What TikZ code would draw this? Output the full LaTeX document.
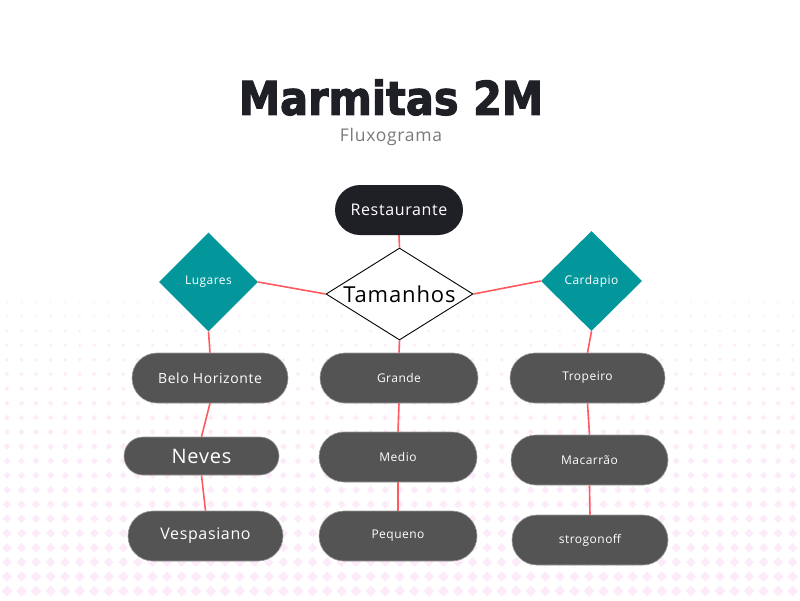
\documentclass[tikz,border=0pt]{standalone}
\usepackage{graphicx}
\usepackage{fontspec}
\setmainfont{Open Sans}
\newfontfamily\titlefont{DejaVu Sans Bold}[FakeBold=2.5]
\newfontfamily\labfont{Open Sans}[LetterSpace=4]
\usetikzlibrary{shapes.geometric,shapes.misc}
\definecolor{inkdark}{HTML}{1F1F26}
\definecolor{pillgrey}{HTML}{545454}
\definecolor{pillrim}{HTML}{9A9A9A}
\definecolor{tealc}{HTML}{03979B}
\definecolor{linkred}{HTML}{FF5A5F}
\definecolor{dotpink}{HTML}{FDEBFA}
\definecolor{subgrey}{HTML}{7A7A7A}
\tikzset{
  pill/.style={rounded rectangle, fill=pillgrey, draw=pillrim, line width=0.6pt, text=white,
    minimum width=155pt, minimum height=50pt, inner sep=0pt, font=\labfont\fontsize{12}{14}\selectfont},
  tealdia/.style={diamond, fill=tealc, text=white, inner sep=0pt, aspect=1,
    minimum width=99pt, minimum height=99pt, font=\labfont\fontsize{12}{14}\selectfont},
  link/.style={draw=linkred, line width=1.6pt},
}
\begin{document}
\begin{tikzpicture}[x=1pt,y=-1pt]
\useasboundingbox (0,0) rectangle (800,600);
\fill[white] (0,0) rectangle (800,600);
% background dots
\foreach \r in {0,...,20}{
  \pgfmathsetmacro{\yy}{302+14.45*\r}
  \pgfmathsetmacro{\rr}{1.0+4.3*\r/20}
  \foreach \c in {0,...,54}{
    \pgfmathsetmacro{\xx}{7+14.55*\c}
    \fill[dotpink] (\xx-\rr,\yy) -- (\xx,\yy-\rr) -- (\xx+\rr,\yy) -- (\xx,\yy+\rr) -- cycle;
  }
}
% title
\node[font=\titlefont\fontsize{41.5}{46}\selectfont, text=inkdark, inner sep=0pt] (title) at (391,97.5) {\scalebox{1}[1.12]{Marmitas 2M}};
\node[font=\labfont\fontsize{17.5}{20}\selectfont, text=subgrey, inner sep=0pt] (sub) at (391,137) {Fluxograma};
% nodes
\node[rounded rectangle, fill=inkdark, text=white, minimum width=128pt, minimum height=50pt, inner sep=0pt,
  font=\labfont\fontsize{16}{19}\selectfont] (rest) at (399,210) {Restaurante};
\node[diamond, aspect=1.6, draw=black, fill=white, line width=0.9pt, minimum width=147pt, minimum height=92pt, inner sep=0pt,
  font=\labfont\fontsize{22}{26}\selectfont] (tam) at (399.5,294) {Tamanhos};
\node[tealdia] (lug) at (208.5,282) {Lugares};
\node[tealdia, minimum width=101pt, minimum height=100pt] (car) at (591.5,281) {Cardapio};

\node[pill, minimum width=156pt, font=\labfont\fontsize{14}{16}\selectfont] (bh) at (210,378) {Belo Horizonte};
\node[pill, minimum width=155pt, minimum height=38pt, font=\labfont\fontsize{20}{24}\selectfont] (nev) at (201.5,456) {Neves};
\node[pill, font=\labfont\fontsize{16}{19}\selectfont] (ves) at (205.5,536) {Vespasiano};

\node[pill, minimum width=158pt] (gra) at (399,378) {Grande};
\node[pill, minimum width=158pt] (med) at (398,457) {Medio};
\node[pill, minimum width=158pt] (peq) at (398,536) {Pequeno};

\node[pill] (tro) at (587.5,378) {Tropeiro};
\node[pill, minimum width=157pt] (mac) at (589.5,460) {Macarrão};
\node[pill, minimum width=156pt] (str) at (590,540) {strogonoff};

% connectors
\draw[link] (rest.south) -- (tam.north);
\draw[link] (lug.east) -- (tam.west);
\draw[link] (tam.east) -- (car.west);
\draw[link] (lug.south) -- (bh.north);
\draw[link] (bh.south) -- (nev.north);
\draw[link] (nev.south) -- (ves.north);
\draw[link] (tam.south) -- (gra.north);
\draw[link] (gra.south) -- (med.north);
\draw[link] (med.south) -- (peq.north);
\draw[link] (car.south) -- (tro.north);
\draw[link] (tro.south) -- (mac.north);
\draw[link] (mac.south) -- (str.north);
\end{tikzpicture}
\end{document}
